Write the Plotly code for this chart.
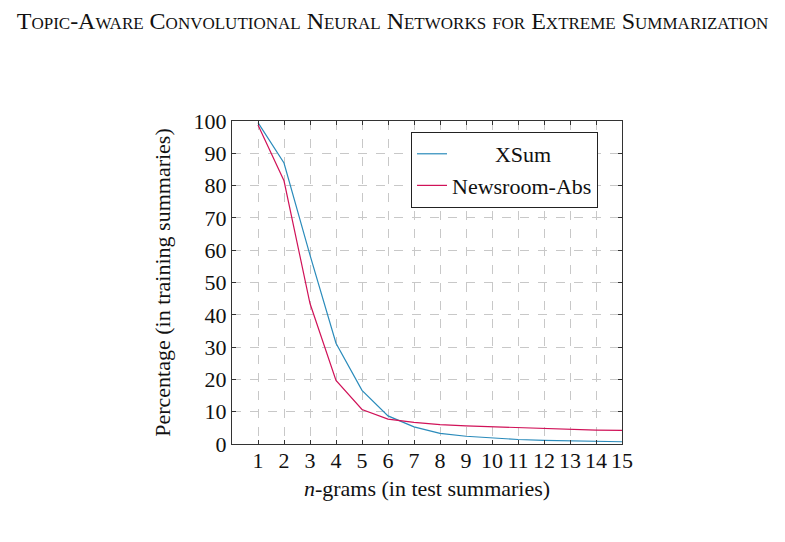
import plotly.graph_objects as go

ngrams = list(range(1, 16))
xsum = [99.5, 87.0, 58.5, 31.2, 16.6, 8.7, 5.3, 3.3, 2.4, 1.8, 1.4, 1.1, 0.9, 0.8, 0.7]
newsroom = [98.8, 81.5, 43.5, 19.7, 10.7, 7.7, 6.7, 6.0, 5.6, 5.3, 5.0, 4.7, 4.5, 4.3, 4.2]
series_names = ["\u00a0" * 7 + "\u2009XSum", "Newsroom-Abs"]
colors = ["#2a8bbb", "#d01258"]
x_ticks = list(range(1, 16))
y_ticks = list(range(0, 101, 10))

FONT = "Liberation Serif"
FS = 22

fig = go.Figure()
fig.add_trace(go.Scatter(x=ngrams, y=xsum, mode="lines", name=series_names[0],
                         line=dict(color=colors[0], width=1.2)))
fig.add_trace(go.Scatter(x=ngrams, y=newsroom, mode="lines", name=series_names[1],
                         line=dict(color=colors[1], width=1.2)))

axis_common = dict(
    showline=True, linecolor="#333333", linewidth=1.2, mirror="ticks",
    ticks="inside", ticklen=4, tickcolor="#333333", tickwidth=1,
    showgrid=True, gridcolor="#c8c8c8", griddash="dash", gridwidth=1,
    zeroline=False,
    tickfont=dict(family=FONT, size=FS, color="#111111"),
)

fig.update_layout(
    width=785, height=542,
    paper_bgcolor="white", plot_bgcolor="white",
    margin=dict(l=232, r=163, t=121, b=98),
    title=dict(text="Topic-Aware Convolutional Neural Networks for Extreme Summarization",
               x=0.5, xanchor="center", y=1 - 21 / 542, yanchor="middle",
               font=dict(family=FONT, size=24, color="#111111", variant="small-caps")),
    xaxis=dict(range=[0, 15], tickvals=x_ticks, ticktext=[str(t) for t in x_ticks],
               title=dict(text="<i>n</i>-grams (in test summaries)",
                          font=dict(family=FONT, size=FS, color="#111111"), standoff=9),
               **axis_common),
    yaxis=dict(range=[0, 100], tickvals=y_ticks,
               title=dict(text="Percentage (in training summaries)",
                          font=dict(family=FONT, size=FS, color="#111111"), standoff=16),
               **axis_common),
    showlegend=True,
    legend=dict(x=0.459, y=0.966, xanchor="left", yanchor="top",
                bordercolor="#222222", borderwidth=1, bgcolor="white",
                font=dict(family=FONT, size=FS, color="#111111"),
                itemwidth=30, tracegroupgap=0),
)
fig.update_xaxes(ticklabelstandoff=-4)

fig.write_html("out.html")
